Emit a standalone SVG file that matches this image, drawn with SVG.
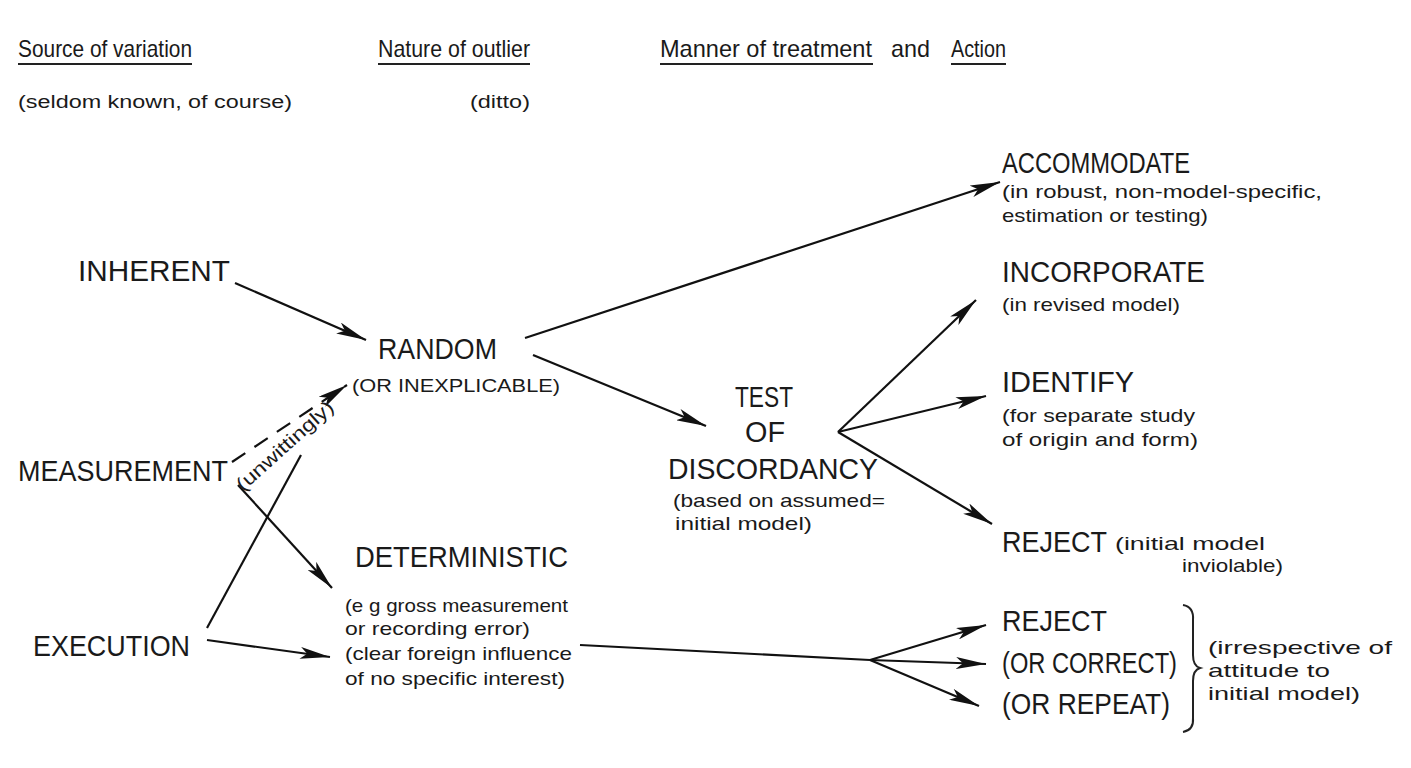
<svg xmlns="http://www.w3.org/2000/svg" width="1411" height="768" viewBox="0 0 1411 768">
<defs>
<style>
text{font-family:"Liberation Sans","DejaVu Sans",sans-serif;fill:#1a1a1a}
.h{font-size:24px}
.s{font-size:18px}
.c{font-size:29px}
.m{font-size:19px}
.ln{stroke:#111;stroke-width:2.2;fill:none}
.ul{stroke:#222;stroke-width:2;fill:none}
</style>
<marker id="ah" viewBox="0 0 30 12" refX="30" refY="6" markerWidth="30" markerHeight="12" markerUnits="userSpaceOnUse" orient="auto">
<path d="M0,0 L30,6 L0,12 L7,6 Z" fill="#111"/>
</marker>
</defs>
<rect width="1411" height="768" fill="#fff"/>

<g id="headers">
<text class="h" x="18" y="57" textLength="174" lengthAdjust="spacingAndGlyphs">Source of variation</text>
<line class="ul" x1="18" y1="64" x2="192" y2="64"/>
<text class="s" x="18" y="108" textLength="274" lengthAdjust="spacingAndGlyphs">(seldom known, of course)</text>
<text class="h" x="378" y="57" textLength="152" lengthAdjust="spacingAndGlyphs">Nature of outlier</text>
<line class="ul" x1="378" y1="64" x2="530" y2="64"/>
<text class="s" x="470" y="108" textLength="60" lengthAdjust="spacingAndGlyphs">(ditto)</text>
<text class="h" x="660" y="57" textLength="212" lengthAdjust="spacingAndGlyphs">Manner of treatment</text>
<line class="ul" x1="660" y1="64" x2="873" y2="64"/>
<text class="h" x="891" y="57" textLength="39" lengthAdjust="spacingAndGlyphs">and</text>
<text class="h" x="951" y="57" textLength="55" lengthAdjust="spacingAndGlyphs">Action</text>
<line class="ul" x1="951" y1="64" x2="1006" y2="64"/>
</g>

<g id="connectors">
<line class="ln" x1="235" y1="283" x2="366" y2="340" marker-end="url(#ah)"/>
<line class="ln" x1="525" y1="338" x2="1000" y2="182" marker-end="url(#ah)"/>
<line class="ln" x1="533" y1="355" x2="706" y2="426" marker-end="url(#ah)"/>
<line class="ln" x1="232" y1="462" x2="347" y2="385" stroke-dasharray="16,11" marker-end="url(#ah)"/>
<line class="ln" x1="207" y1="628" x2="301" y2="455"/>
<line class="ln" x1="238" y1="485" x2="332" y2="588" marker-end="url(#ah)"/>
<line class="ln" x1="207" y1="640" x2="330" y2="657" marker-end="url(#ah)"/>
<line class="ln" x1="838" y1="432" x2="976" y2="300" marker-end="url(#ah)"/>
<line class="ln" x1="838" y1="432" x2="986" y2="396" marker-end="url(#ah)"/>
<line class="ln" x1="838" y1="432" x2="992" y2="524" marker-end="url(#ah)"/>
<line class="ln" x1="580" y1="645" x2="870" y2="660"/>
<line class="ln" x1="870" y1="660" x2="986" y2="625" marker-end="url(#ah)"/>
<line class="ln" x1="870" y1="660" x2="986" y2="664" marker-end="url(#ah)"/>
<line class="ln" x1="870" y1="660" x2="979" y2="706" marker-end="url(#ah)"/>
</g>

<g id="inherent"><text class="c" x="78" y="281" textLength="152" lengthAdjust="spacingAndGlyphs">INHERENT</text></g>
<g id="measurement"><text class="c" x="18" y="481" textLength="210" lengthAdjust="spacingAndGlyphs">MEASUREMENT</text></g>
<g id="execution"><text class="c" x="33" y="656" textLength="157" lengthAdjust="spacingAndGlyphs">EXECUTION</text></g>
<g id="unwittingly"><text class="m" transform="translate(243,492) rotate(-42)" textLength="124" lengthAdjust="spacingAndGlyphs">(unwittingly)</text></g>

<g id="random">
<text class="c" x="378" y="359" textLength="119" lengthAdjust="spacingAndGlyphs">RANDOM</text>
<text class="m" x="352" y="392" textLength="208" lengthAdjust="spacingAndGlyphs">(OR INEXPLICABLE)</text>
</g>

<g id="deterministic">
<text class="c" x="355" y="567" textLength="213" lengthAdjust="spacingAndGlyphs">DETERMINISTIC</text>
<text class="m" x="345" y="612" textLength="223" lengthAdjust="spacingAndGlyphs">(e g  gross measurement</text>
<text class="m" x="345" y="635" textLength="185" lengthAdjust="spacingAndGlyphs">or recording error)</text>
<text class="m" x="345" y="660" textLength="227" lengthAdjust="spacingAndGlyphs">(clear foreign influence</text>
<text class="m" x="345" y="685" textLength="220" lengthAdjust="spacingAndGlyphs">of no specific interest)</text>
</g>

<g id="test">
<text class="c" x="735" y="407" textLength="58" lengthAdjust="spacingAndGlyphs">TEST</text>
<text class="c" x="745" y="442" textLength="40" lengthAdjust="spacingAndGlyphs">OF</text>
<text class="c" x="668" y="479" textLength="210" lengthAdjust="spacingAndGlyphs">DISCORDANCY</text>
<text class="m" x="673" y="507" textLength="212" lengthAdjust="spacingAndGlyphs">(based on assumed=</text>
<text class="m" x="675" y="530" textLength="137" lengthAdjust="spacingAndGlyphs">initial model)</text>
</g>

<g id="accommodate">
<text class="c" x="1002" y="173" textLength="188" lengthAdjust="spacingAndGlyphs">ACCOMMODATE</text>
<text class="m" x="1002" y="198" textLength="320" lengthAdjust="spacingAndGlyphs">(in robust, non-model-specific,</text>
<text class="m" x="1002" y="222" textLength="206" lengthAdjust="spacingAndGlyphs">estimation or testing)</text>
</g>

<g id="incorporate">
<text class="c" x="1002" y="282" textLength="203" lengthAdjust="spacingAndGlyphs">INCORPORATE</text>
<text class="m" x="1002" y="311" textLength="178" lengthAdjust="spacingAndGlyphs">(in revised model)</text>
</g>

<g id="identify">
<text class="c" x="1002" y="392" textLength="132" lengthAdjust="spacingAndGlyphs">IDENTIFY</text>
<text class="m" x="1002" y="422" textLength="193" lengthAdjust="spacingAndGlyphs">(for separate study</text>
<text class="m" x="1002" y="446" textLength="196" lengthAdjust="spacingAndGlyphs">of origin and form)</text>
</g>

<g id="reject1">
<text class="c" x="1002" y="552" textLength="105" lengthAdjust="spacingAndGlyphs">REJECT</text>
<text class="m" x="1115" y="550" textLength="150" lengthAdjust="spacingAndGlyphs">(initial model</text>
<text class="m" x="1182" y="572" textLength="101" lengthAdjust="spacingAndGlyphs">inviolable)</text>
</g>

<g id="reject2">
<text class="c" x="1002" y="631" textLength="105" lengthAdjust="spacingAndGlyphs">REJECT</text>
<text class="c" x="1002" y="673" textLength="175" lengthAdjust="spacingAndGlyphs">(OR CORRECT)</text>
<text class="c" x="1002" y="714" textLength="168" lengthAdjust="spacingAndGlyphs">(OR REPEAT)</text>
</g>

<g id="brace">
<path class="ul" d="M1183,605 Q1194,607 1193,620 L1193,655 Q1193,666 1200,668 Q1193,670 1193,681 L1193,718 Q1194,730 1183,732"/>
<text class="m" x="1208" y="654" textLength="184" lengthAdjust="spacingAndGlyphs">(irrespective of</text>
<text class="m" x="1208" y="677" textLength="122" lengthAdjust="spacingAndGlyphs">attitude to</text>
<text class="m" x="1208" y="700" textLength="152" lengthAdjust="spacingAndGlyphs">initial model)</text>
</g>
</svg>
